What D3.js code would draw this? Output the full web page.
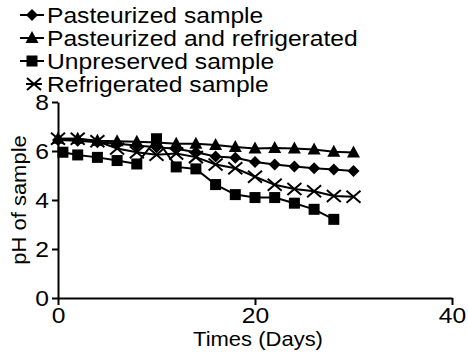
<!DOCTYPE html>
<html>
<head>
<meta charset="utf-8">
<script src="https://cdn.jsdelivr.net/npm/d3@7"></script>
<style>
  body { margin: 0; background: #fff; }
  svg { display: block; font-family: "Liberation Sans", Arial, sans-serif; }
</style>
</head>
<body>
<svg id="chart" width="468" height="360"></svg>
<script>
// days of measurement
var days = [0, 2, 4, 6, 8, 10, 12, 14, 16, 18, 20, 22, 24, 26, 28, 30];
var daysUnpreserved = [0.5, 2, 4, 6, 8, 10, 12, 14, 16, 18, 20, 22, 24, 26, 28];

// pH values
var pasteurized = [6.45, 6.42, 6.36, 6.3, 6.22, 6.15, 6.09, 5.95, 5.78, 5.72, 5.55, 5.45, 5.37, 5.3, 5.24, 5.18];
var pastRefrig = [6.5, 6.5, 6.42, 6.4, 6.38, 6.35, 6.3, 6.3, 6.24, 6.16, 6.1, 6.12, 6.1, 6.06, 5.97, 5.94];
var unpreserved = [5.95, 5.84, 5.74, 5.61, 5.47, 6.5, 5.35, 5.27, 4.63, 4.22, 4.1, 4.1, 3.87, 3.62, 3.21];
var refrigerated = [6.5, 6.5, 6.4, 6.1, 5.95, 5.85, 5.9, 5.75, 5.45, 5.3, 4.95, 4.62, 4.45, 4.36, 4.16, 4.13];

var xTicks = [0, 20, 40];
var yTicks = [0, 2, 4, 6, 8];

var series = [
  {name: "Pasteurized sample", x: days, y: pasteurized, symbol: "diamond"},
  {name: "Pasteurized and refrigerated", x: days, y: pastRefrig, symbol: "triangle"},
  {name: "Unpreserved sample", x: daysUnpreserved, y: unpreserved, symbol: "square"},
  {name: "Refrigerated sample", x: days, y: refrigerated, symbol: "cross"}
];

var svg = d3.select("#chart");
var STRETCH = 1.12; // text in the original looks a bit wide

var x = d3.scaleLinear().domain([0, 40]).range([58, 452]);
var y = d3.scaleLinear().domain([0, 8]).range([298, 102]);

// draw a marker at (cx, cy)
function marker(g, type, cx, cy) {
  if (type == "diamond") {
    g.append("path")
      .attr("d", "M" + cx + "," + (cy - 6) + "L" + (cx + 6) + "," + cy + "L" + cx + "," + (cy + 6) + "L" + (cx - 6) + "," + cy + "Z")
      .attr("fill", "#000");
  } else if (type == "triangle") {
    g.append("path")
      .attr("d", "M" + cx + "," + (cy - 7) + "L" + (cx + 6.5) + "," + (cy + 5) + "L" + (cx - 6.5) + "," + (cy + 5) + "Z")
      .attr("fill", "#000");
  } else if (type == "square") {
    g.append("rect")
      .attr("x", cx - 5.5).attr("y", cy - 5.5)
      .attr("width", 11).attr("height", 11)
      .attr("fill", "#000");
  } else {
    g.append("path")
      .attr("d", "M" + (cx - 7) + "," + (cy - 6) + "L" + (cx + 7) + "," + (cy + 6) +
                 "M" + (cx + 7) + "," + (cy - 6) + "L" + (cx - 7) + "," + (cy + 6))
      .attr("stroke", "#000").attr("stroke-width", 2).attr("fill", "none");
  }
}

// lines + markers
series.forEach(function (s) {
  var pts = s.x.map(function (d, i) { return [d, s.y[i]]; });
  var line = d3.line().x(function (d) { return x(d[0]); }).y(function (d) { return y(d[1]); });
  svg.append("path")
    .datum(pts)
    .attr("d", line)
    .attr("fill", "none")
    .attr("stroke", "#000")
    .attr("stroke-width", 2);
  var g = svg.append("g");
  pts.forEach(function (p) { marker(g, s.symbol, x(p[0]), y(p[1])); });
});

// axes
var xAxis = svg.append("g")
  .attr("transform", "translate(0," + y(0) + ")")
  .call(d3.axisBottom(x).tickValues(xTicks).tickSize(7).tickPadding(2).tickSizeOuter(0));
var yAxis = svg.append("g")
  .attr("transform", "translate(" + x(0) + ",0)")
  .call(d3.axisLeft(y).tickValues(yTicks).tickSize(6).tickPadding(3).tickSizeOuter(0));

[xAxis, yAxis].forEach(function (a) {
  a.select(".domain").attr("stroke-width", 2);
  a.selectAll(".tick line").attr("stroke-width", 2);
  a.selectAll(".tick text")
    .attr("font-size", 22)
    .attr("font-family", "Liberation Sans, Arial, sans-serif")
    .attr("fill", "#000");
});
// widen tick labels around their anchor
xAxis.selectAll(".tick text").attr("transform", "scale(" + STRETCH + ",1)");
yAxis.selectAll(".tick text")
  .attr("x", 0)
  .attr("transform", "translate(-9,0) scale(" + STRETCH + ",1)");

// axis titles
svg.append("text")
  .attr("transform", "translate(258,346) scale(1.1,1)")
  .attr("text-anchor", "middle")
  .attr("font-size", 20)
  .text("Times (Days)");

svg.append("text")
  .attr("transform", "translate(26,200) rotate(-90) scale(1.1,1)")
  .attr("text-anchor", "middle")
  .attr("font-size", 20)
  .text("pH of sample");

// legend
var legend = svg.append("g");
series.forEach(function (s, i) {
  var ly = 15 + i * 23;
  var isCross = s.symbol == "cross";
  legend.append("line")
    .attr("x1", isCross ? 26 : 20).attr("x2", isCross ? 42 : 44)
    .attr("y1", ly).attr("y2", ly)
    .attr("stroke", "#000").attr("stroke-width", 2);
  marker(legend, s.symbol, isCross ? 34 : 32, ly);
  legend.append("text")
    .attr("transform", "translate(47," + (ly + 8) + ") scale(" + STRETCH + ",1)")
    .attr("font-size", 22)
    .text(s.name);
});
</script>
</body>
</html>
